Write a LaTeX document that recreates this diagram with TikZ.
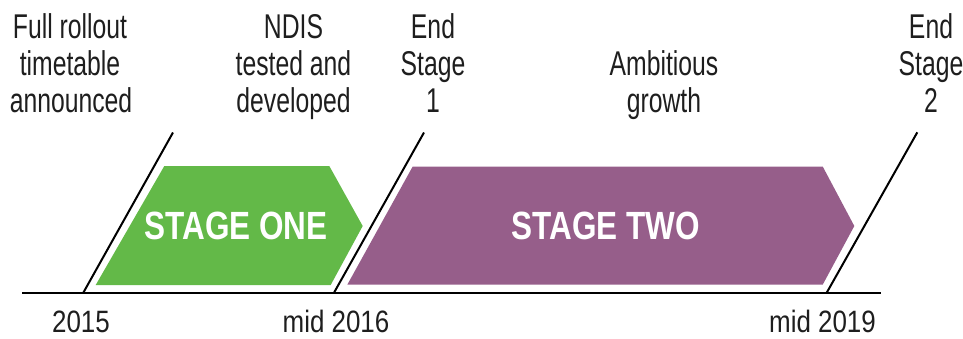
\documentclass[tikz,border=0pt]{standalone}
\usepackage{fontspec}
\newfontfamily\cnd[FakeStretch=0.72]{Liberation Sans}
\newfontfamily\cndy[FakeStretch=0.84]{Liberation Sans}
\newfontfamily\cndb[FakeStretch=0.8]{Liberation Sans}
\definecolor{stgreen}{RGB}{99,185,72}
\definecolor{stpurple}{RGB}{150,94,138}
\definecolor{txt}{RGB}{30,30,30}
\tikzset{
  lbl/.style={anchor=base,inner sep=0pt,text=txt,font=\cnd\fontsize{34.5}{37}\selectfont},
  yr/.style={anchor=base,inner sep=0pt,text=txt,font=\cndy\fontsize{31}{37}\selectfont},
  stg/.style={inner sep=0pt,text=white,font=\cndb\bfseries\fontsize{39.5}{44}\selectfont},
  tl/.style={line width=2bp,black},
  sl/.style={line width=2bp,black}
}
\begin{document}
\begin{tikzpicture}[x=1bp,y=-1bp]
\useasboundingbox (0,0) rectangle (963,338);
% coordinates
\coordinate (b0) at (22.3,292.7);
\coordinate (b1) at (880.7,292.7);
\coordinate (s1a) at (83.3,292.7);   \coordinate (s1b) at (173,132.5);
\coordinate (s2a) at (334,292.7);    \coordinate (s2b) at (424,132.5);
\coordinate (s3a) at (826.7,292.7);  \coordinate (s3b) at (917.3,132.3);
% stage shapes
\fill[stgreen] (164.3,166) -- (329.3,166) -- (362.7,226) -- (330.7,285) -- (95.7,285) -- cycle;
\fill[stpurple] (412.7,166.5) -- (822.7,166.5) -- (854.3,226) -- (822.7,284.7) -- (347.3,284.7) -- cycle;
\node[stg] (one) at (236,226) {STAGE ONE};
\node[stg] (two) at (606,226) {STAGE TWO};
% timeline
\draw[tl] (b0) -- (b1);
\draw[sl] (s1a) -- (s1b);
\draw[sl] (s2a) -- (s2b);
\draw[sl] (s3a) -- (s3b);
% top labels
\node[lbl] (fr1) at (70,38) {Full rollout};
\node[lbl] (fr2) at (70,75) {timetable};
\node[lbl] (fr3) at (71,112) {announced};
\node[lbl] (nd1) at (293.5,38) {NDIS};
\node[lbl] (nd2) at (293.5,75) {tested and};
\node[lbl] (nd3) at (293.5,112) {developed};
\node[lbl] (e11) at (433,38) {End};
\node[lbl] (e12) at (433,75) {Stage};
\node[lbl] (e13) at (433,112) {1};
\node[lbl] (ag1) at (664,75) {Ambitious};
\node[lbl] (ag2) at (664,112) {growth};
\node[lbl] (e21) at (931,38) {End};
\node[lbl] (e22) at (931,75) {Stage};
\node[lbl] (e23) at (931,112) {2};
% years
\node[yr] (y1) at (81,332.5) {2015};
\node[yr] (y2) at (336,332.5) {mid 2016};
\node[yr] (y3) at (822.5,332.5) {mid 2019};
\end{tikzpicture}
\end{document}
